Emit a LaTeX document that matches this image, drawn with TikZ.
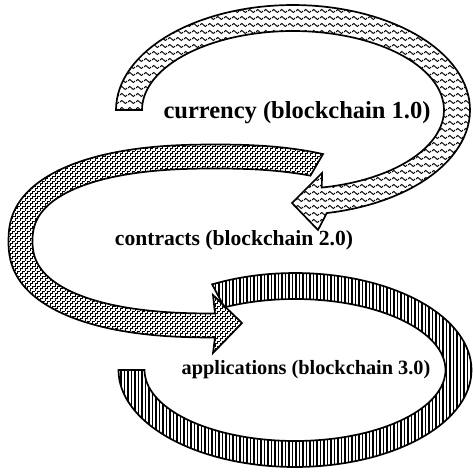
\documentclass[tikz,border=0pt]{standalone}
\usepackage{fontspec}
\setmainfont{Liberation Serif}
\usetikzlibrary{patterns}
\pgfdeclarepatternformonly{wavy}{\pgfqpoint{0pt}{0pt}}{\pgfqpoint{8pt}{6.5pt}}{\pgfqpoint{8pt}{6.5pt}}{%
  \pgfsetlinewidth{1pt}%
  \pgfpathmoveto{\pgfqpoint{0pt}{3.25pt}}%
  \pgfpathcurveto{\pgfqpoint{1.33pt}{5.4pt}}{\pgfqpoint{2.67pt}{5.4pt}}{\pgfqpoint{4pt}{3.25pt}}%
  \pgfpathcurveto{\pgfqpoint{5.33pt}{1.1pt}}{\pgfqpoint{6.67pt}{1.1pt}}{\pgfqpoint{8pt}{3.25pt}}%
  \pgfusepath{stroke}}
\pgfdeclarepatternformonly{stairs}{\pgfqpoint{-0.5pt}{-0.5pt}}{\pgfqpoint{10.5pt}{10.5pt}}{\pgfqpoint{10pt}{10pt}}{%
  \pgfsetlinewidth{0.65pt}%
  \pgfpathmoveto{\pgfqpoint{0pt}{0pt}}%
  \pgfpathlineto{\pgfqpoint{0pt}{2.5pt}}\pgfpathlineto{\pgfqpoint{2.5pt}{2.5pt}}%
  \pgfpathlineto{\pgfqpoint{2.5pt}{5pt}}\pgfpathlineto{\pgfqpoint{5pt}{5pt}}%
  \pgfpathlineto{\pgfqpoint{5pt}{7.5pt}}\pgfpathlineto{\pgfqpoint{7.5pt}{7.5pt}}%
  \pgfpathlineto{\pgfqpoint{7.5pt}{10pt}}\pgfpathlineto{\pgfqpoint{10pt}{10pt}}%
  \pgfpathmoveto{\pgfqpoint{5pt}{0pt}}%
  \pgfpathlineto{\pgfqpoint{5pt}{2.5pt}}\pgfpathlineto{\pgfqpoint{7.5pt}{2.5pt}}%
  \pgfpathlineto{\pgfqpoint{7.5pt}{5pt}}\pgfpathlineto{\pgfqpoint{10pt}{5pt}}%
  \pgfpathmoveto{\pgfqpoint{0pt}{5pt}}%
  \pgfpathlineto{\pgfqpoint{0pt}{7.5pt}}\pgfpathlineto{\pgfqpoint{2.5pt}{7.5pt}}%
  \pgfpathlineto{\pgfqpoint{2.5pt}{10pt}}\pgfpathlineto{\pgfqpoint{5pt}{10pt}}%
  \pgfusepath{stroke}}
\pgfdeclarepatternformonly{vlines}{\pgfqpoint{0pt}{-1pt}}{\pgfqpoint{3.5pt}{4pt}}{\pgfqpoint{3.5pt}{3pt}}{%
  \pgfsetlinewidth{1.5pt}%
  \pgfpathmoveto{\pgfqpoint{1.75pt}{-1pt}}\pgfpathlineto{\pgfqpoint{1.75pt}{4pt}}%
  \pgfusepath{stroke}}
\tikzset{
  bandarrow/.style={draw=black, line width=1.7pt, line join=miter},
  label/.style={inner sep=0pt, font=\bfseries},
  declare function={
    sx(\t)=cos(\t)*exp(-0.15*ln(abs(cos(\t))+0.0001));
    sy(\t)=sin(\t)*exp(-0.15*ln(abs(sin(\t))+0.0001));
  }
}
\begin{document}
\begin{tikzpicture}[x=1pt, y=-1pt]
\useasboundingbox (0,0) rectangle (473,471);
% top arrow (currency)
\draw[bandarrow, pattern=wavy]
  plot[domain=180:-79, samples=90] ({293+177*cos(\x)},{110-105*sin(\x)})
  -- (318,230) -- (292,203) -- (322,173)
  -- plot[domain=-79:180, samples=90] ({293+151*cos(\x)},{110-79*sin(\x)})
  -- cycle;
% middle arrow (contracts)
\draw[bandarrow, pattern=stairs]
  plot[domain=62.2:270, samples=100] ({215+206.5*sx(\x)},{241-96.5*sy(\x)})
  -- (213,353) -- (242,323) -- (213,295)
  -- plot[domain=270:62.2, samples=100] ({215+182.5*sx(\x)},{241-72.5*sy(\x)})
  -- cycle;
% bottom band (applications)
\draw[bandarrow, pattern=vlines]
  plot[domain=118:-180, samples=110] ({295+176.5*cos(\x)},{370-97*sin(\x)})
  -- plot[domain=-180:118, samples=110] ({295+150.5*cos(\x)},{370-71*sin(\x)})
  -- cycle;
\node[label, font=\bfseries\fontsize{24.5}{28}\selectfont] (t1) at (297,113) {currency (blockchain 1.0)};
\node[label, font=\bfseries\fontsize{21.6}{25}\selectfont] (t2) at (234,240) {contracts (blockchain 2.0)};
\node[label, font=\bfseries\fontsize{20.3}{24}\selectfont] (t3) at (306,370) {applications (blockchain 3.0)};
\end{tikzpicture}
\end{document}
